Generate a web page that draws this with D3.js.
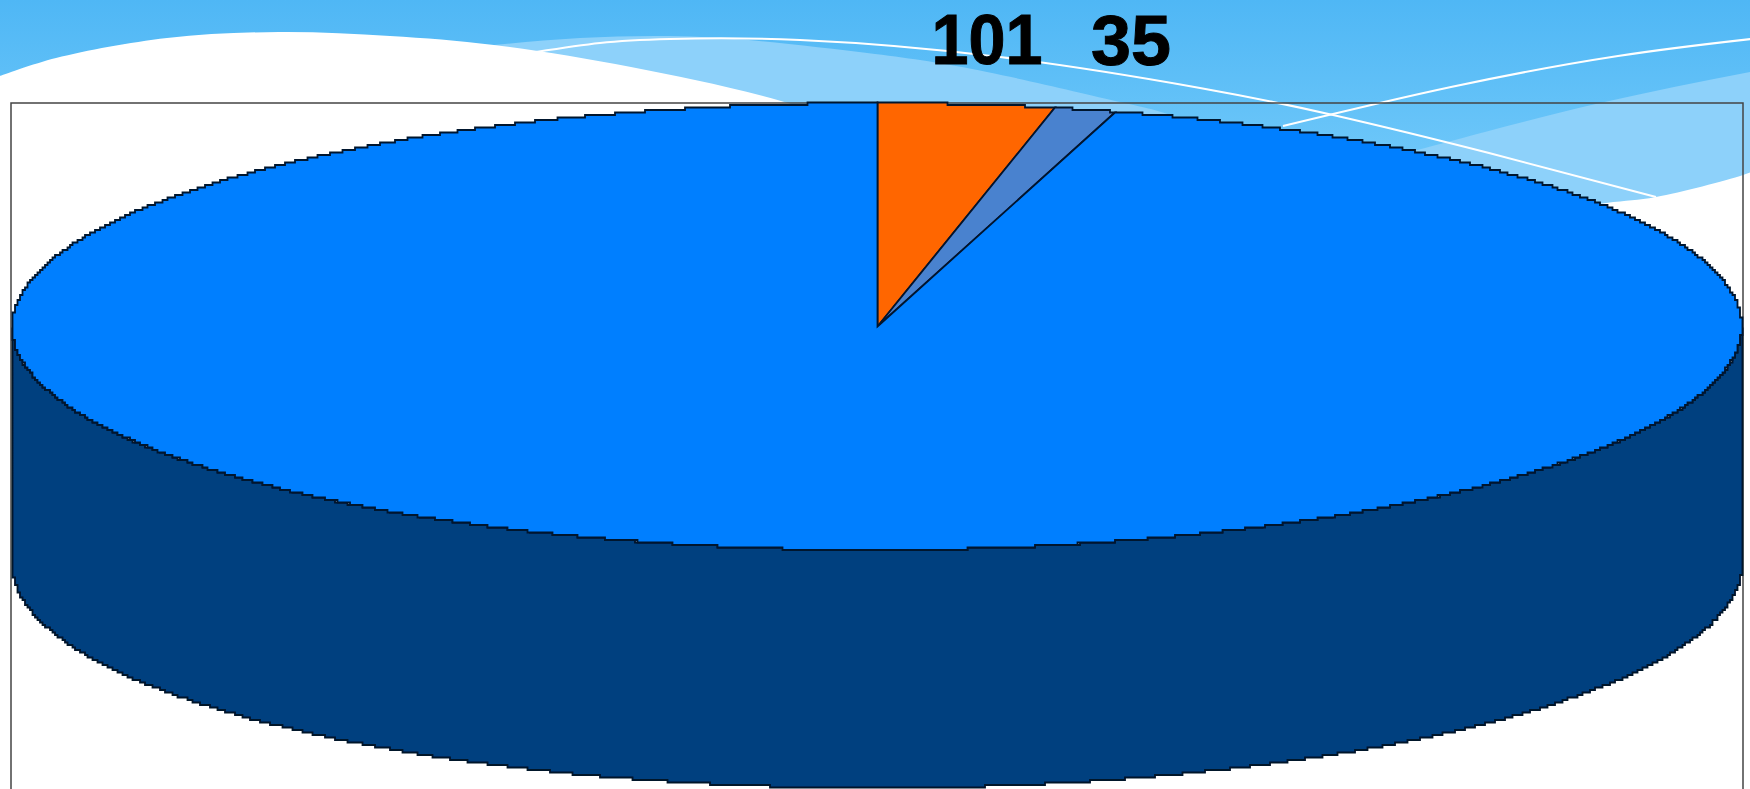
<!DOCTYPE html>
<html><head><meta charset="utf-8">
<script src="https://cdn.jsdelivr.net/npm/d3@7/dist/d3.min.js"></script>
<style>html,body{margin:0;padding:0;background:#fff;overflow:hidden}svg{display:block}</style>
</head><body><svg id="c" width="1750" height="789"></svg>
<script>
// --- chart data ---
const categories = ["orange", "steel", "main"];
const seriesValues = [101, 35, 2924];
const sliceColors = ["#ff6600", "#4a82cf", "#007fff"];
const labelTexts = ["101", "35"];
const labelAnchorX = [987, 1131];
const labelWidth = [111, 80];

// --- decorative backdrop traces ---
const whiteWave = [[0,76],[56,58],[167,38],[279,32],[390,36],[494,45],[631,67],[781,101],[1000,175],[1250,240],[1450,225],[1606,203],[1656,197],[1743,175],[1760,168]];
const lightWaveA = [[494,45],[580,38],[670,36],[759,41],[875,54],[987,72],[1120,102],[1173,116],[1260,150]];
const lightWaveB = [[1380,160],[1455,140],[1600,103],[1760,70]];
const lineA = [[536,52],[600,43],[670,39],[800,40],[1000,57],[1200,88],[1333,115],[1489,153],[1656,197]];
const lineB = [[1283,126],[1451,87],[1618,56],[1760,38]];

const svg = d3.select("#c");
const W = 1750, H = 789;
const cx = 877, cy = 326.5, rx = 865, ry = 223.5, depth = 238, cell = 2.5;
const frame = {x:11, y:103, r:1743};

const defs = svg.append("defs");
const grad = defs.append("linearGradient").attr("id","sky").attr("x1",0).attr("y1",0).attr("x2",0).attr("y2",1);
grad.append("stop").attr("offset",0).attr("stop-color","#4fb7f5");
grad.append("stop").attr("offset",1).attr("stop-color","#7bcefb");
defs.append("filter").attr("id","soft").attr("filterUnits","userSpaceOnUse")
  .attr("x",0).attr("y",0).attr("width",W).attr("height",H)
  .append("feGaussianBlur").attr("stdDeviation",0.5);

const curve = d3.line().curve(d3.curveNatural);
svg.append("rect").attr("width",W).attr("height",230).attr("fill","url(#sky)");
svg.append("path").attr("fill","#8dd1fa").attr("d", curve(lightWaveA) + "L1260,300L700,300Z");
svg.append("path").attr("fill","#8dd1fa").attr("d", curve(lightWaveB) + "L1760,300L1380,300Z");
svg.append("path").attr("fill","#fff").attr("d", d3.line().curve(d3.curveCatmullRom.alpha(0.5))(whiteWave) + `L1760,${H}L0,${H}Z`);
[lineA,lineB].forEach(l => svg.append("path").attr("fill","none").attr("stroke","#fff").attr("stroke-width",2).attr("d",curve(l)));

// plot frame
svg.append("path").attr("fill","none").attr("stroke","#444").attr("stroke-width",1.5)
  .attr("d",`M${frame.x},${H+5}V${frame.y}H${frame.r}V${H+5}`);

// scales from the unit ellipse to the page; rim is snapped to a coarse grid like the low-res source
const xS = d3.scaleLinear().domain([-1,1]).range([cx-rx,cx+rx]);
const yS = d3.scaleLinear().domain([-1,1]).range([cy-ry,cy+ry]);
const snap = v => Math.round(v/cell)*cell;
const rim = (t0,t1,dy=0) => {
  const n = Math.max(2, Math.ceil(Math.abs(t1-t0)/(2*Math.PI)*2400));
  return d3.range(n+1).map(i => {
    const t = t0+(t1-t0)*i/n;
    return [snap(xS(Math.sin(t))), snap(yS(-Math.cos(t))+dy)];
  });
};
const stepLine = d3.line().curve(d3.curveStepAfter);

// extruded side
const front = rim(Math.PI/2, 3*Math.PI/2);
const back = rim(3*Math.PI/2, Math.PI/2, depth);
const plot = svg.append("g").attr("filter","url(#soft)");
plot.append("path").attr("fill","#003f7f").attr("stroke","#00122b").attr("stroke-width",1.8)
  .attr("d", stepLine(front) + "L" + stepLine(back).slice(1) + "Z");

// top face
const arcs = d3.pie().sort(null).value(d=>d)(seriesValues);
plot.selectAll("path.slice").data(arcs).join("path").attr("class","slice")
  .attr("fill",(d,i)=>sliceColors[i])
  .attr("stroke","#06142e").attr("stroke-width",1.8).attr("stroke-linejoin","miter")
  .attr("d",d => `M${snap(cx)},${cy}L` + stepLine(rim(d.startAngle,d.endAngle)).slice(1) + "Z");

plot.selectAll("text.lab").data(labelTexts).join("text").attr("class","lab")
  .attr("x",(d,i)=>labelAnchorX[i]).attr("y",(d,i)=>i?65:63.5)
  .attr("text-anchor","middle")
  .attr("textLength",(d,i)=>labelWidth[i]).attr("lengthAdjust","spacingAndGlyphs")
  .attr("font-family","'Liberation Sans',Arial,sans-serif").attr("font-weight","bold")
  .attr("font-size",71).attr("fill","#000").attr("stroke","#000").attr("stroke-width",1).text(d=>d);
</script></body></html>
